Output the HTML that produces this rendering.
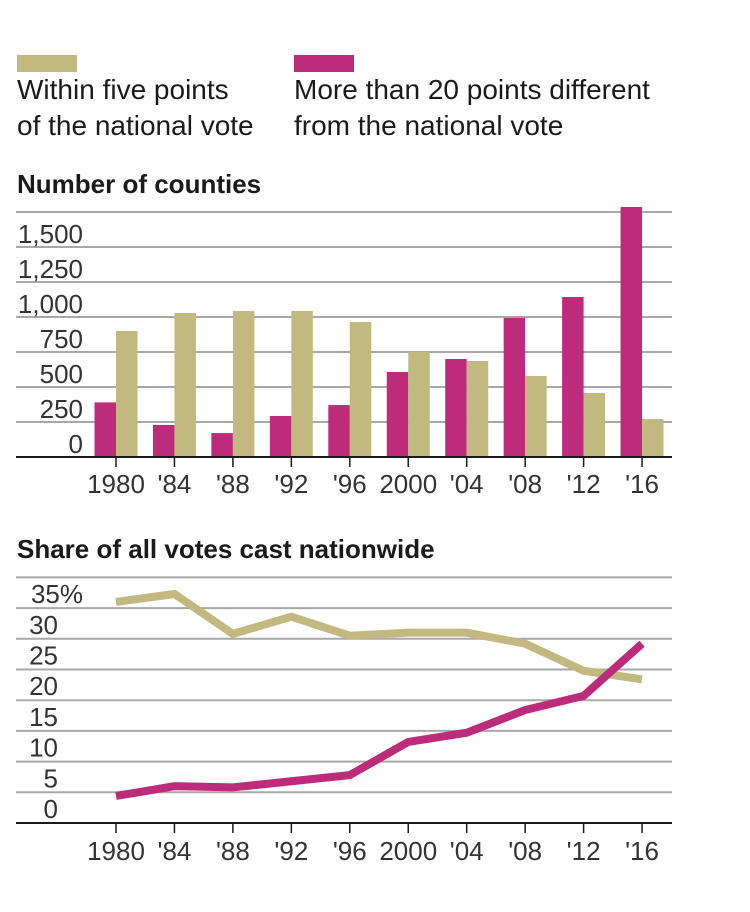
<!DOCTYPE html>
<html><head><meta charset="utf-8"><style>
body{margin:0;background:#fff;width:750px;height:912px;overflow:hidden;font-family:"Liberation Sans",sans-serif;color:#1a1a1a}
.sw{position:absolute;height:17px;width:60px;top:55px}
.lg{position:absolute;top:72px;font-size:28px;line-height:36px;white-space:nowrap}
.ttl{position:absolute;font-size:26px;font-weight:bold;white-space:nowrap}
</style></head><body>
<div class="sw" style="left:17px;background:#c2b980"></div>
<div class="sw" style="left:294px;background:#bc2c7a"></div>
<div class="lg" style="left:17px">Within five points<br>of the national vote</div>
<div class="lg" style="left:294px">More than 20 points different<br>from the national vote</div>
<div class="ttl" style="left:17px;top:169px">Number of counties</div>
<div class="ttl" style="left:17px;top:534px">Share of all votes cast nationwide</div>
<svg id="s" width="750" height="912" style="position:absolute;left:0;top:0"></svg>
<script>
const years=['1980',"'84","'88","'92","'96",'2000',"'04","'08","'12","'16"];
const countiesFar=[390,229,171,293,371,607,700,993,1143,1786];
const countiesNear=[900,1029,1043,1043,964,750,686,579,457,271];
const countyTicks=['0','250','500','750','1,000','1,250','1,500',''];
const shareNear=[36,37.3,30.8,33.6,30.5,31,31,29.2,24.8,23.4];
const shareFar=[4.4,6,5.8,6.8,7.8,13.2,14.7,18.4,20.7,29.2];
const shareTicks=['0','5','10','15','20','25','30','35%',''];
const S=document.getElementById('s'),NS='http://www.w3.org/2000/svg';
function mk(t,a,p){const e=document.createElementNS(NS,t);for(const k in a)e.setAttribute(k,a[k]);(p||S).appendChild(e);return e;}
const GOLD='#c2b980',MAG='#bc2c7a';
const xp=i=>116+i*58.45;
// bar chart
const yb=v=>457-v*0.14;
countyTicks.forEach((t,i)=>{const y=yb(i*250);
 if(i>0){const l=mk('line',{x1:16,x2:672,y1:y,y2:y,stroke:'#a8a8a8','stroke-width':2});
 
 }
 if(t){const tx=mk('text',{x:83,y:y-4,'text-anchor':'end','font-size':26,fill:'#333'});tx.textContent=t;
 
 }});
years.forEach((yr,i)=>{
 const a=mk('rect',{x:xp(i)-21.5,y:yb(countiesFar[i]),width:21.5,height:countiesFar[i]*0.14,fill:MAG});
 
 
 const b=mk('rect',{x:xp(i),y:yb(countiesNear[i]),width:21.5,height:countiesNear[i]*0.14,fill:GOLD});
 
 
 mk('line',{x1:xp(i),x2:xp(i),y1:457,y2:467,stroke:'#1a1a1a','stroke-width':1.5});
 const t=mk('text',{x:xp(i),y:493,'text-anchor':'middle','font-size':26,fill:'#333'});t.textContent=yr;
 
 });
mk('line',{x1:16,x2:672,y1:457,y2:457,stroke:'#1a1a1a','stroke-width':2});
// line chart
const yl=v=>823-v*6.14;
shareTicks.forEach((t,i)=>{const y=yl(i*5);
 if(i>0){const l=mk('line',{x1:16,x2:672,y1:y,y2:y,stroke:'#a8a8a8','stroke-width':2});
 
 }
 if(t){const tx=mk('text',{x:i==7?83:58,y:y-5,'text-anchor':'end','font-size':26,fill:'#333'});tx.textContent=t;
 
 }});
years.forEach((yr,i)=>{
 mk('line',{x1:xp(i),x2:xp(i),y1:823,y2:833,stroke:'#1a1a1a','stroke-width':1.5});
 const t=mk('text',{x:xp(i),y:860,'text-anchor':'middle','font-size':26,fill:'#333'});t.textContent=yr;
 
 });
mk('line',{x1:16,x2:672,y1:823,y2:823,stroke:'#1a1a1a','stroke-width':2});
const pn=mk('polyline',{points:shareNear.map((v,i)=>xp(i)+','+yl(v)).join(' '),fill:'none',stroke:GOLD,'stroke-width':8,'stroke-linejoin':'miter'});


const pf=mk('polyline',{points:shareFar.map((v,i)=>xp(i)+','+yl(v)).join(' '),fill:'none',stroke:MAG,'stroke-width':8,'stroke-linejoin':'miter'});


</script>
</body></html>
